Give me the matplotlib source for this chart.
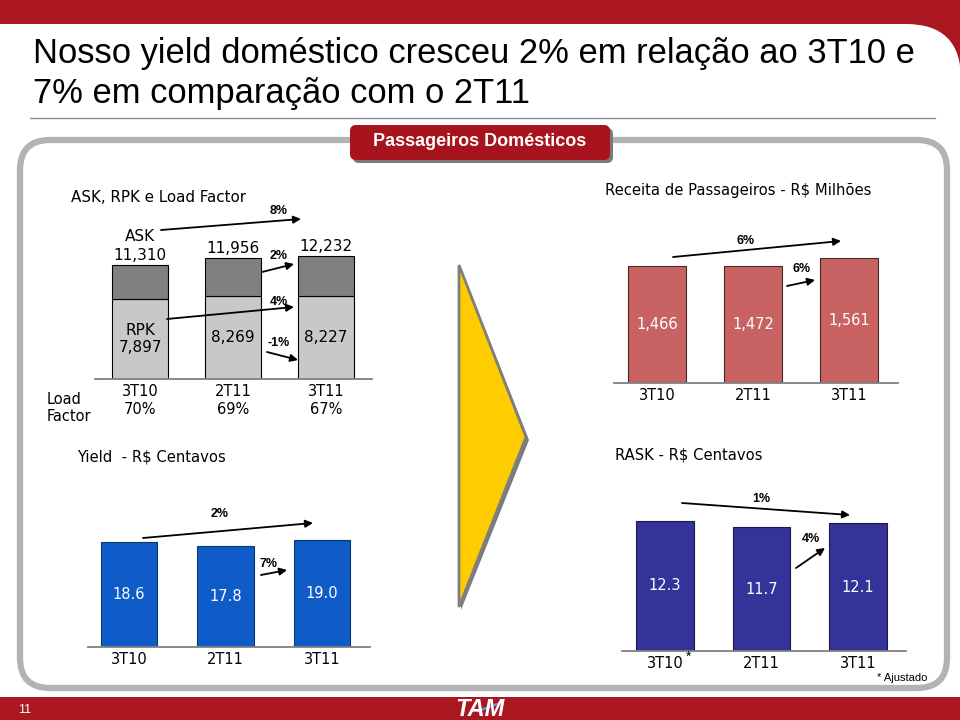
import matplotlib
matplotlib.use('Agg')
import matplotlib.pyplot as plt
import numpy as np
from matplotlib.patches import FancyBboxPatch, Polygon, Rectangle

# ---------------- data ----------------
quarters = ['3T10', '2T11', '3T11']
ask = [11310, 11956, 12232]
rpk = [7897, 8269, 8227]
load_factor = ['70%', '69%', '67%']
revenue = [1466, 1472, 1561]
yield_cents = [18.6, 17.8, 19.0]
rask_cents = [12.3, 11.7, 12.1]

W, H = 960, 720
RED = '#ab1720'
CH = 'DejaVu Sans'
AR = 'Liberation Sans'

fig = plt.figure(figsize=(9.6, 7.2), dpi=100)

bg = fig.add_axes([0, 0, 1, 1], zorder=0)
bg.set_xlim(0, W); bg.set_ylim(H, 0); bg.axis('off')

# header band with rounded white corner
bg.add_patch(Rectangle((0, 0), W, 90, fc=RED, ec='none'))
bg.add_patch(FancyBboxPatch((-80, 24), W + 80 + 1, 900,
                            boxstyle='round,pad=0,rounding_size=55', fc='white', ec='none'))
# footer
bg.add_patch(Rectangle((0, 697), W, 30, fc=RED, ec='none'))
bg.text(18, 710, '11', color='white', fontsize=9, family=AR, va='center', ha='left')
bg.text(480, 709, 'TAM', color='white', fontsize=17, family=AR, fontweight='bold',
        fontstyle='italic', va='center', ha='center')
bg.plot([478, 500], [711, 703], color='#5aa0e6', lw=1.5)

# title
bg.text(33, 63, 'Nosso yield doméstico cresceu 2% em relação ao 3T10 e', fontsize=24.85,
        family=AR, va='baseline', ha='left', color='black')
bg.text(33, 103, '7% em comparação com o 2T11', fontsize=24.85,
        family=AR, va='baseline', ha='left', color='black')
bg.plot([30, 935], [118, 118], color='#8c8c8c', lw=1)

# frame
bg.add_patch(FancyBboxPatch((20, 140), 927, 548, boxstyle='round,pad=0,rounding_size=30',
                            fc='white', ec='#b3b3b3', lw=4.5))
# tab
bg.add_patch(FancyBboxPatch((353, 128), 260, 35, boxstyle='round,pad=0,rounding_size=6',
                            fc='#7a7a7a', ec='none'))
bg.add_patch(FancyBboxPatch((350, 125), 260, 35, boxstyle='round,pad=0,rounding_size=6',
                            fc='#a8141e', ec='none'))
bg.text(480, 142, 'Passageiros Domésticos', color='white', fontsize=13, family=AR,
        fontweight='bold', ha='center', va='center')

# yellow arrow
bg.add_patch(Polygon([(461, 268), (529, 440), (461, 610)], closed=True, fc='#7a7a7a', ec='none'))
bg.add_patch(Polygon([(459, 265), (526, 437), (459, 607)], closed=True, fc='#FFCC00',
                     ec='#7f7f7f', lw=2))


def chart_axes(left, right, base, c0, spacing, units_per_px, ymax):
    hpx = ymax / units_per_px
    ax = fig.add_axes([left / W, (H - base) / H, (right - left) / W, hpx / H], zorder=2)
    ax.set_xlim((left - c0) / spacing, (right - c0) / spacing)
    ax.set_ylim(0, ymax)
    ax.axis('off')
    ax.patch.set_alpha(0)
    ax.axhline(0, color='#808080', lw=1.3, clip_on=False)
    return ax


x = np.arange(len(quarters))

# ---- chart 1: ASK / RPK ----
ax1 = chart_axes(95, 372, 379, 140, 93, 99.2, 14000)
ax1.bar(x, rpk, width=0.6, color='#c8c8c8', edgecolor='black', lw=0.8)
ax1.bar(x, np.array(ask) - np.array(rpk), bottom=rpk, width=0.6, color='#808080',
        edgecolor='black', lw=0.8)
for i in x:
    ax1.annotate(f'{ask[i]:,}', (i, ask[i]), xytext=(0, 5), textcoords='offset pixels',
                 ha='center', va='baseline', fontsize=11, family=CH)
    lab = f'RPK\n{rpk[i]:,}' if i == 0 else f'{rpk[i]:,}'
    ax1.annotate(lab, (i, rpk[i] / 2), ha='center', va='center', fontsize=11, family=CH)
    ax1.annotate(f'{quarters[i]}\n{load_factor[i]}', (i, 0), xytext=(0, -21.5),
                 textcoords='offset pixels', ha='center', va='center', fontsize=10.5, family=CH)
ax1.annotate('ASK', (0, ask[0]), xytext=(0, 24), textcoords='offset pixels',
             ha='center', va='baseline', fontsize=11, family=CH)

# ---- chart 2: revenue ----
ax2 = chart_axes(614, 898, 383, 657, 96, 12.53, 2000)
ax2.bar(x, revenue, width=0.594, color='#c96262', edgecolor='#4a2a2a', lw=0.8)
for i in x:
    ax2.annotate(f'{revenue[i]:,}', (i, revenue[i] / 2), ha='center', va='center',
                 fontsize=10.5, family=CH, color='white')
    ax2.annotate(quarters[i], (i, 0), xytext=(0, -12), textcoords='offset pixels',
                 ha='center', va='center', fontsize=10.5, family=CH)

# ---- chart 3: yield ----
ax3 = chart_axes(88, 370, 647, 129, 96.5, 0.1771, 25)
ax3.bar(x, yield_cents, width=0.59, color='#0f5bc8', edgecolor='#0a3770', lw=0.8)
for i in x:
    ax3.annotate(f'{yield_cents[i]:.1f}', (i, yield_cents[i] / 2), ha='center', va='center',
                 fontsize=10.5, family=CH, color='white')
    ax3.annotate(quarters[i], (i, 0), xytext=(0, -12), textcoords='offset pixels',
                 ha='center', va='center', fontsize=10.5, family=CH)

# ---- chart 4: RASK ----
ax4 = chart_axes(622, 906, 651, 665, 96.5, 0.0946, 16)
ax4.bar(x, rask_cents, width=0.6, color='#333399', edgecolor='#1a1a4d', lw=0.8)
for i in x:
    ax4.annotate(f'{rask_cents[i]:.1f}', (i, rask_cents[i] / 2), ha='center', va='center',
                 fontsize=10.5, family=CH, color='white')
    ax4.annotate(quarters[i], (i, 0), xytext=(0, -12), textcoords='offset pixels',
                 ha='center', va='center', fontsize=10.5, family=CH)
ax4.annotate('*', (0, 0), xytext=(24, -6), textcoords='offset pixels',
             ha='center', va='center', fontsize=10, family=AR)

# ---- overlay: titles & arrows ----
fg = fig.add_axes([0, 0, 1, 1], zorder=5)
fg.set_xlim(0, W); fg.set_ylim(H, 0); fg.axis('off'); fg.patch.set_alpha(0)

fg.text(71, 198, 'ASK, RPK e Load Factor', fontsize=10.9, family=CH, va='center', ha='left')
fg.text(47, 408, 'Load\nFactor', fontsize=10.5, family=CH, va='center', ha='left')
fg.text(605, 191, 'Receita de Passageiros - R$ Milhões', fontsize=10.6, family=CH,
        va='center', ha='left')
fg.text(77, 457, 'Yield  - R$ Centavos', fontsize=10.6, family=CH, va='center', ha='left')
fg.text(615, 455, 'RASK - R$ Centavos', fontsize=10.6, family=CH, va='center', ha='left')
fg.text(927, 678, '* Ajustado', fontsize=8, family=AR, va='center', ha='right')

arrows = [
    ((161, 230), (301, 219), '8%', (279, 211)),
    ((262, 272), (294, 264), '2%', (279, 256)),
    ((167, 319), (294, 307), '4%', (279, 302)),
    ((267, 352), (298, 360), '-1%', (279, 343)),
    ((673, 257), (841, 241), '6%', (746, 241)),
    ((787, 286), (815, 280), '6%', (802, 269)),
    ((143, 538), (313, 523), '2%', (220, 514)),
    ((261, 575), (287, 570), '7%', (269, 564)),
    ((682, 503), (850, 515), '1%', (761, 499)),
    ((796, 568), (825, 548), '4%', (811, 539)),
]
for tail, head, lab, lp in arrows:
    fg.annotate('', xy=head, xytext=tail,
                arrowprops=dict(arrowstyle='-|>', color='black', lw=1.3,
                                mutation_scale=11, shrinkA=0, shrinkB=0))
    fg.text(lp[0], lp[1], lab, fontsize=9, family=AR, fontweight='bold',
            ha='center', va='center')

fig.savefig('out.png', dpi=100)
